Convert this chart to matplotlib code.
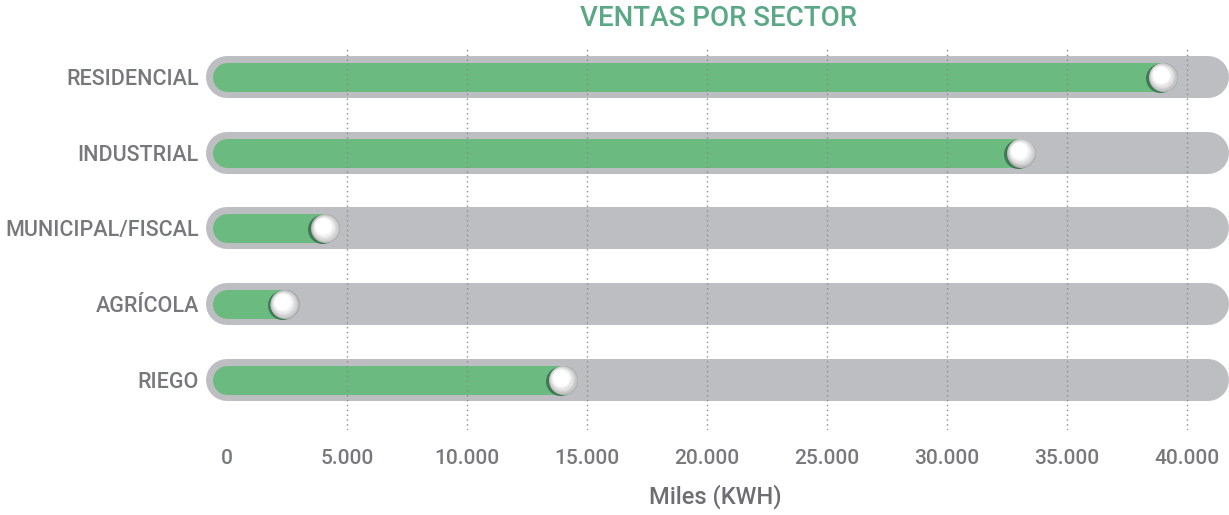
import numpy as np
import matplotlib
matplotlib.use("Agg")
import matplotlib.pyplot as plt
import matplotlib.transforms as mtransforms

# ---------------- data ----------------
categories = ["RESIDENCIAL", "INDUSTRIAL", "MUNICIPAL/FISCAL", "AGRÍCOLA", "RIEGO"]
values = [39000, 33100, 4100, 2400, 14000]
xticks = [0, 5000, 10000, 15000, 20000, 25000, 30000, 35000, 40000]
xtick_labels = ["0", "5.000", "10.000", "15.000", "20.000", "25.000", "30.000", "35.000", "40.000"]
title = "VENTAS POR SECTOR"
xlabel = "Miles (KWH)"

# ---------------- style ----------------
W, H, DPI = 1229, 515, 100
FONT = ["Roboto", "DejaVu Sans"]
GREEN = "#6bba80"
TRACK = "#bdbec1"
TITLE_C = "#5aa886"
TEXT_C = "#77787b"
SHADOW = "#3d7a52"

fig = plt.figure(figsize=(W / DPI, H / DPI), dpi=DPI)
x0_px, x1_px = 227, 1229
y_top_px, y_bot_px = 47, 430
ax = fig.add_axes([x0_px / W, 1 - y_bot_px / H, (x1_px - x0_px) / W, (y_bot_px - y_top_px) / H])

px_per_unit_x = 120 / 5000
xmax = (x1_px - x0_px) / px_per_unit_x
row_top_px, row_bot_px = 77, 380
n = len(categories)
px_per_row = (row_bot_px - row_top_px) / (n - 1)
ax.set_xlim(0, xmax)
ax.set_ylim(n - 1 + (y_bot_px - row_bot_px) / px_per_row, -(row_top_px - y_top_px) / px_per_row)

pt = 72 / DPI  # points per pixel
track_lw = 42 * pt
bar_lw = 29 * pt
knob_d = 29 * pt

ypos = np.arange(n)
track_end = xmax - 21 / px_per_unit_x

for i, (cat, v) in enumerate(zip(categories, values)):
    ax.plot([0, track_end], [i, i], color=TRACK, lw=track_lw, solid_capstyle="round",
            zorder=1, clip_on=False)
    ax.plot([0, v], [i, i], color=GREEN, lw=bar_lw, solid_capstyle="round",
            zorder=2, clip_on=False)

# grid lines
for t in xticks[1:]:
    ax.axvline(t, color="#8a8b8e", lw=1.0, ls=(0, (1, 2.5)), zorder=3)

# knobs
shadow_tr = ax.transData + mtransforms.ScaledTranslation(-3 / DPI, -1 / DPI, fig.dpi_scale_trans)
ax.plot(values, ypos, "o", ms=knob_d, color=SHADOW, mec="none", zorder=4, transform=shadow_tr)
steps = 30
c_dark = np.array([0.68, 0.68, 0.69])
c_light = np.array([1.0, 1.0, 1.0])
for k in range(steps):
    f = k / (steps - 1)
    d = knob_d * (1 - 0.75 * f)
    off = 4.0 * f
    col = c_dark + (c_light - c_dark) * min(1.0, (f * 1.6) ** 0.7)
    tr = ax.transData + mtransforms.ScaledTranslation(-off / DPI, off / DPI, fig.dpi_scale_trans)
    ax.plot(values, ypos, "o", ms=d, color=col, mec="none", zorder=5 + k * 0.01, transform=tr)

# axes styling
for s in ax.spines.values():
    s.set_visible(False)
ax.set_yticks(ypos)
ax.set_yticklabels(categories, fontsize=15.5, color=TEXT_C, family=FONT, fontweight="medium")
ax.tick_params(axis="y", length=0, pad=28 * pt)
ax.set_xticks(xticks)
ax.set_xticklabels(xtick_labels, fontsize=15, color=TEXT_C, family=FONT, fontweight="medium")
ax.tick_params(axis="x", length=0, pad=19 * pt)

fig.text(719 / W, 1 - 18 / H, title, ha="center", va="center", fontsize=20,
         color=TITLE_C, family=FONT, fontweight="medium")
fig.text(715 / W, 1 - 497 / H, xlabel, ha="center", va="center", fontsize=17,
         color="#6d6e71", family=FONT, fontweight="medium")

fig.savefig("out.png", dpi=DPI)
